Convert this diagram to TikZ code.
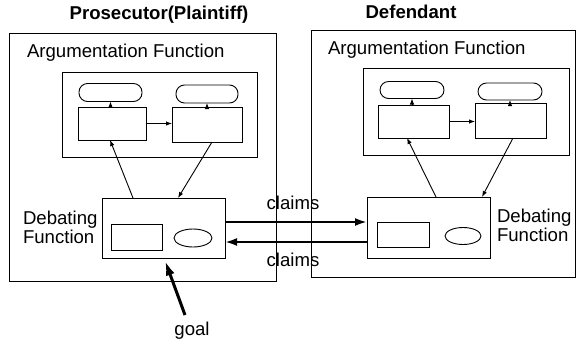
\documentclass[tikz,border=0pt]{standalone}
\usepackage{fontspec}
\setmainfont{Liberation Sans}
\usetikzlibrary{arrows.meta,shapes.geometric}
\begin{document}
\begin{tikzpicture}[x=1pt,y=-1pt,
  every node/.style={font=\fontsize{18.6}{19.5}\selectfont, inner sep=0pt, outer sep=0pt},
  frame/.style={draw, line width=0.9pt, rectangle},
  pill/.style={draw, line width=0.9pt, rectangle, rounded corners=8.5pt},
  oval/.style={draw, line width=0.9pt, ellipse},
  thinarrow/.style={line width=0.9pt, -{Latex[length=6pt,width=4.5pt]}},
  msgarrow/.style={line width=2.2pt, -{Latex[length=12pt,width=8pt]}},
  goalarrow/.style={line width=3pt, -{Latex[length=15pt,width=9pt]}},
  title/.style={font=\fontsize{18.6}{19.5}\selectfont\bfseries}]
\useasboundingbox (0,0) rectangle (577,349);

% titles
\node[title] (tP) at (159,15) {Prosecutor(Plaintiff)};
\node[title] (tD) at (411,12) {Defendant};

% outer agent boxes
\node[frame, minimum width=267pt, minimum height=248pt] (agL) at (142.5,157) {};
\node[frame, minimum width=264pt, minimum height=247pt] (agR) at (443,153.5) {};

% argumentation function, left
\node[anchor=west] (afL) at (27,53) {Argumentation Function};
\node[frame, minimum width=195pt, minimum height=85pt] (argL) at (159.5,114.5) {};
\node[pill, minimum width=63pt, minimum height=18pt] (pL1) at (110.5,92.5) {};
\node[pill, minimum width=62pt, minimum height=18pt] (pL2) at (207,94) {};
\node[frame, minimum width=68pt, minimum height=33pt] (rL1) at (112,123.5) {};
\node[frame, minimum width=70pt, minimum height=35pt] (rL2) at (207,124.5) {};
\draw[thinarrow] (rL1.east) -- (rL2.west |- rL1.east);
\draw[thinarrow] (rL1.north -| pL1.south) -- (pL1.south);
\draw[thinarrow] (rL2.north -| pL2.south) -- (pL2.south);

% argumentation function, right
\node[anchor=west] (afR) at (328,50) {Argumentation Function};
\node[frame, minimum width=206pt, minimum height=87pt] (argR) at (466,111.5) {};
\node[pill, minimum width=64pt, minimum height=17pt] (pR1) at (412,90) {};
\node[pill, minimum width=64pt, minimum height=17pt] (pR2) at (510,91.5) {};
\node[frame, minimum width=71pt, minimum height=33pt] (rR1) at (413.5,121.5) {};
\node[frame, minimum width=71pt, minimum height=35pt] (rR2) at (510.5,120.5) {};
\draw[thinarrow] (rR1.east) -- (rR2.west |- rR1.east);
\draw[thinarrow] (rR1.north -| pR1.south) -- (pR1.south);
\draw[thinarrow] (rR2.north -| pR2.south) -- (pR2.south);

% debating function, left
\node[anchor=west, align=left] (dfL) at (23,227.5) {Debating\\Function};
\node[frame, minimum width=123pt, minimum height=60pt] (debL) at (163.5,228) {};
\node[frame, minimum width=51pt, minimum height=26pt] (dLr) at (136.5,237) {};
\node[oval, minimum width=38pt, minimum height=18pt] (dLe) at (193,238) {};
\draw[thinarrow] ([xshift=-30.5pt]debL.north) -- ([xshift=-2pt]rL1.south);
\draw[thinarrow] ([xshift=5pt]rL2.south) -- ([xshift=14.5pt]debL.north);

% debating function, right
\node[anchor=west, align=left] (dfR) at (497,225.5) {Debating\\Function};
\node[frame, minimum width=123pt, minimum height=61pt] (debR) at (428.5,227.5) {};
\node[frame, minimum width=52pt, minimum height=25pt] (dRr) at (403,234.5) {};
\node[oval, minimum width=36pt, minimum height=17pt] (dRe) at (463,236) {};
\draw[thinarrow] ([xshift=7.5pt]debR.north) -- ([xshift=-6.5pt]rR1.south);
\draw[thinarrow] ([xshift=2.5pt]rR2.south) -- ([xshift=53.5pt]debR.north);

% claims exchanged between the two debating functions
\draw[msgarrow] ([yshift=6pt]debL.east) -- ([yshift=5.5pt]debR.west);
\draw[msgarrow] ([yshift=-14.5pt]debR.west) -- ([yshift=-14pt]debL.east);
\node (c1) at (293,203) {claims};
\node (c2) at (293,260) {claims};

% goal input
\coordinate (gT) at (185,315);
\draw[goalarrow] (gT) -- ([xshift=1.5pt,yshift=-2.5pt]debL.south);
\node (goal) at (192,331) {goal};
\end{tikzpicture}
\end{document}
